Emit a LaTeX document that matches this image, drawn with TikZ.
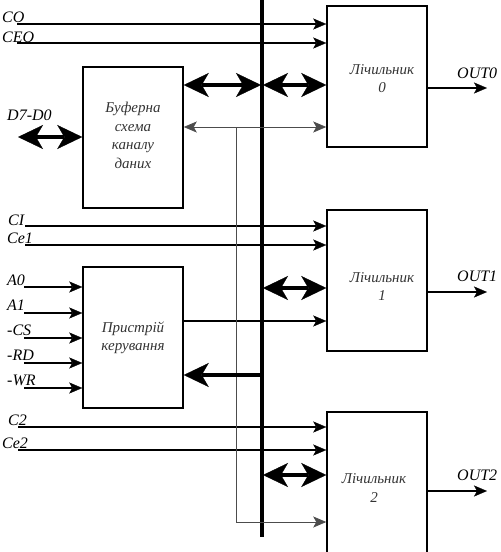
\documentclass[tikz,border=0pt]{standalone}
\usepackage{fontspec}
\setmainfont{Liberation Serif}
\usetikzlibrary{arrows.meta}
\begin{document}
\begin{tikzpicture}[x=1pt,y=-1pt,
  box/.style={draw, line width=1.5pt, minimum width=100pt, inner sep=0pt},
  boxtxt/.style={font=\fontsize{15}{17.5}\selectfont\itshape, text=black!80, align=center, inner sep=0pt},
  lbl/.style={font=\fontsize{16}{18}\selectfont\itshape, inner sep=0pt},
  sig/.style={line width=1.3pt, -{Stealth[length=13pt,width=11pt,inset=3pt,line width=0.3pt]}},
  thinl/.style={line width=0.8pt, draw=black!70},
  bhead/.tip={Stealth[length=25pt,width=24pt,inset=7pt,line width=0.3pt]},
  bidir/.style={line width=4pt, bhead-bhead},
  busl/.style={line width=4pt}]
\useasboundingbox (0,0) rectangle (501,552);

% boxes
\node[box, minimum height=141pt] (c0) at (377,76.5) {};
\node[box, minimum height=141pt] (c1) at (377,280.5) {};
\node[box, minimum height=141pt] (c2) at (377,482.5) {};
\node[box, minimum height=141pt] (buf) at (133,137.5) {};
\node[box, minimum height=141pt] (ctl) at (133,337.5) {};

% box texts (base = last line)
\node[boxtxt, anchor=base] (c0t) at (382,92) {Лічильник\\0};
\node[boxtxt, anchor=base] (c1t) at (382,300) {Лічильник\\1};
\node[boxtxt, anchor=base, font=\fontsize{15}{19}\selectfont\itshape] (c2t) at (374,502) {Лічильник\\2};
\node[boxtxt, anchor=base, font=\fontsize{15}{18.4}\selectfont\itshape] (buft) at (133,168) {Буферна\\схема\\каналу\\даних};
\node[boxtxt, anchor=base, font=\fontsize{15}{18}\selectfont\itshape] (ctlt) at (133,350) {Пристрій\\керування};

% bus
\coordinate (bt) at (262,0);
\coordinate (bb) at (262,537);
\draw[busl] (bt) -- (bb);

% labels
\node[lbl, anchor=base west] (lCO) at (2,22) {CO};
\node[lbl, anchor=base west] (lCEO) at (2,42) {CEO};
\node[lbl, anchor=base west] (lD) at (7,120) {D7-D0};
\node[lbl, anchor=base west] (lCI) at (8,225) {CI};
\node[lbl, anchor=base west] (lCe1) at (7,243) {Ce1};
\node[lbl, anchor=base west] (lA0) at (7,285) {A0};
\node[lbl, anchor=base west] (lA1) at (7,310) {A1};
\node[lbl, anchor=base west] (lCS) at (7,335) {-CS};
\node[lbl, anchor=base west] (lRD) at (7,360) {-RD};
\node[lbl, anchor=base west] (lWR) at (7,385) {-WR};
\node[lbl, anchor=base west] (lC2) at (8,425) {C2};
\node[lbl, anchor=base west] (lCe2) at (2,448) {Ce2};
\node[lbl, anchor=base west] (lO0) at (457,78) {OUT0};
\node[lbl, anchor=base west] (lO1) at (457,281) {OUT1};
\node[lbl, anchor=base west] (lO2) at (457,480) {OUT2};

% input signal lines
\coordinate (sCO) at (17,24);
\coordinate (sCEO) at (17,43);
\coordinate (sCI) at (25,226);
\coordinate (sCe1) at (25,245);
\coordinate (sC2) at (18,427);
\coordinate (sCe2) at (18,450);
\draw[sig] (sCO) -- (sCO -| c0.west);
\draw[sig] (sCEO) -- (sCEO -| c0.west);
\draw[sig] (sCI) -- (sCI -| c1.west);
\draw[sig] (sCe1) -- (sCe1 -| c1.west);
\draw[sig] (sC2) -- (sC2 -| c2.west);
\draw[sig] (sCe2) -- (sCe2 -| c2.west);

\coordinate (sA0) at (24,287);
\coordinate (sA1) at (24,313);
\coordinate (sCS) at (24,338);
\coordinate (sRD) at (24,363);
\coordinate (sWR) at (24,388);
\foreach \s in {sA0,sA1,sCS,sRD,sWR}
  \draw[sig] (\s) -- (\s -| ctl.west);

% control to counter 1
\coordinate (k1) at (200,321);
\draw[sig] (k1 -| ctl.east) -- (k1 -| c1.west);

% thin read/write line
\coordinate (j1) at (236,127);
\coordinate (j2) at (236,522);
\draw[thinl, {Stealth[length=13pt,width=11pt,inset=3pt]}-{Stealth[length=13pt,width=11pt,inset=3pt]}] (j1 -| buf.east) -- (j1 -| c0.west);
\draw[thinl, -{Stealth[length=13pt,width=11pt,inset=3pt]}] (j1) -- (j2) -- (j2 -| c2.west);

% data bus arrows
\coordinate (dD) at (18,137);
\draw[bidir] (dD) -- (dD -| buf.west);
\coordinate (dB) at (261,85);
\draw[bidir] (dB -| buf.east) -- (dB);
\coordinate (d0) at (263,85);
\draw[bidir] (d0) -- (d0 -| c0.west);
\coordinate (d1) at (263,288);
\draw[bidir] (d1) -- (d1 -| c1.west);
\coordinate (d2) at (263,475);
\draw[bidir] (d2) -- (d2 -| c2.west);

% bus to control
\coordinate (bC) at (262,375);
\draw[line width=4pt, -bhead] (bC) -- (bC -| ctl.east);

% outputs
\coordinate (o0) at (487,88);
\coordinate (o1) at (487,292);
\coordinate (o2) at (487,491);
\draw[sig] (o0 -| c0.east) -- (o0);
\draw[sig] (o1 -| c1.east) -- (o1);
\draw[sig] (o2 -| c2.east) -- (o2);
\end{tikzpicture}
\end{document}
